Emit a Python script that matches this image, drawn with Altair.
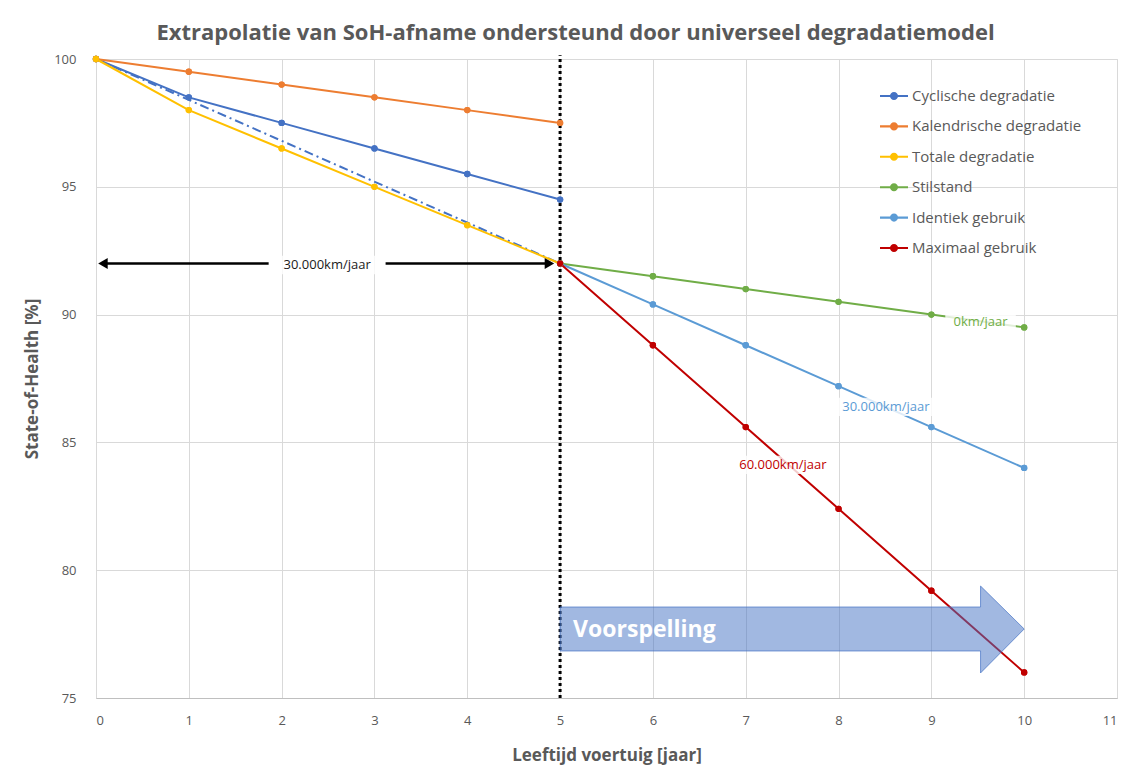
import altair as alt
import pandas as pd

# ---------------- data ----------------
series_names = ["Cyclische degradatie", "Kalendrische degradatie", "Totale degradatie",
                "Stilstand", "Identiek gebruik", "Maximaal gebruik"]
series_colors = ["#4472C4", "#ED7D31", "#FFC000", "#70AD47", "#5B9BD5", "#C00000"]

years_hist = [0, 1, 2, 3, 4, 5]
years_pred = [5, 6, 7, 8, 9, 10]
cyclisch = [100, 98.5, 97.5, 96.5, 95.5, 94.5]
kalendrisch = [100, 99.5, 99.0, 98.5, 98.0, 97.5]
totale = [100, 98.0, 96.5, 95.0, 93.5, 92.0]
stilstand = [92.0, 91.5, 91.0, 90.5, 90.0, 89.5]
identiek = [92.0, 90.4, 88.8, 87.2, 85.6, 84.0]
maximaal = [92.0, 88.8, 85.6, 82.4, 79.2, 76.0]

trend_x = [0, 5]
trend_y = [100, 92]

x_ticks = list(range(0, 12))
y_ticks = [75, 80, 85, 90, 95, 100]

# annotation texts
label_texts = ["30.000km/jaar", "0km/jaar", "30.000km/jaar", "60.000km/jaar"]
label_x = [2.49, 9.53, 8.51, 7.40]
label_y = [91.94, 89.71, 86.39, 84.12]
label_colors = ["#1a1a1a", "#70AD47", "#5B9BD5", "#C00000"]
label_halfw = [0.62, 0.38, 0.55, 0.55]
label_halfh = [0.36, 0.36, 0.36, 0.36]

arrow_seg_x = [0.08, 3.12]
arrow_seg_x2 = [1.86, 4.88]
arrow_y = 92.0
arrow_heads_x = [0.075, 4.885]
arrow_heads_shape = ["triangle-left", "triangle-right"]

forecast_x = [5, 9.53, 9.53, 10, 9.53, 9.53, 5, 5]
forecast_y = [78.56, 78.56, 79.38, 77.70, 75.98, 76.84, 76.84, 78.56]
forecast_text = "Voorspelling"

# ---------------- tables ----------------
rows = []
for name, xs, ys in [
    (series_names[0], years_hist, cyclisch),
    (series_names[1], years_hist, kalendrisch),
    (series_names[2], years_hist, totale),
    (series_names[3], years_pred, stilstand),
    (series_names[4], years_pred, identiek),
    (series_names[5], years_pred, maximaal),
]:
    for xv, yv in zip(xs, ys):
        rows.append({"x": xv, "y": yv, "serie": name})
df = pd.DataFrame(rows)

FONT = "Open Sans"
GRAY = "#595959"

X_AXIS = alt.Axis(values=x_ticks, title="Leeftijd voertuig  [jaar]", format="d",
                  grid=True, gridColor="#d9d9d9", ticks=False, domain=True,
                  domainColor="#bfbfbf", labelFont=FONT, labelFontSize=13,
                  labelColor=GRAY, labelPadding=16, titleFont=FONT,
                  titleFontSize=17, titleFontWeight="bold", titleColor=GRAY,
                  titlePadding=20)
Y_AXIS = alt.Axis(values=y_ticks, title="State-of-Health  [%]", format="d",
                  grid=True, gridColor="#d9d9d9", ticks=False, domain=False,
                  labelFont=FONT, labelFontSize=13, labelColor=GRAY,
                  labelPadding=20, titleFont=FONT, titleFontSize=17,
                  titleFontWeight="bold", titleColor=GRAY, titlePadding=12)


def xe(field="x"):
    return alt.X(f"{field}:Q", scale=alt.Scale(domain=[0, 11], nice=False, zero=False),
                 axis=X_AXIS)


def ye(field="y"):
    return alt.Y(f"{field}:Q", scale=alt.Scale(domain=[75, 100], nice=False, zero=False),
                 axis=Y_AXIS)


LEGEND_PATH = ("M-1,-0.075H1V0.075H-1Z "
               "M0.29,0A0.29,0.29,0,1,1,-0.29,0A0.29,0.29,0,1,1,0.29,0Z")

LEGEND = alt.Legend(title=None, orient="none", legendX=784, legendY=23,
                    symbolType=LEGEND_PATH, symbolSize=784,
                    symbolStrokeWidth=0, symbolOpacity=1,
                    labelFont=FONT, labelFontSize=15, labelColor=GRAY, labelLimit=400,
                    rowPadding=8.4, labelOffset=4, padding=0)
color_scale = alt.Scale(domain=series_names, range=series_colors)

points = alt.Chart(df).mark_point(filled=True, size=40, opacity=1).encode(
    x=xe(), y=ye(),
    color=alt.Color("serie:N", scale=color_scale, sort=series_names, legend=LEGEND))

lines = alt.Chart(df).mark_line(strokeWidth=2).encode(
    x=xe(), y=ye(),
    color=alt.Color("serie:N", scale=color_scale, sort=series_names, legend=LEGEND),
    detail="serie:N")

trend = alt.Chart(pd.DataFrame({"x": trend_x, "y": trend_y})).mark_line(
    color="#4472C4", strokeWidth=2, strokeDash=[9, 4, 2, 4]).encode(x=xe(), y=ye())

vline = alt.Chart(pd.DataFrame({"x": [5], "y": [75], "y2": [100.15]})).mark_rule(
    color="black", strokeWidth=3, strokeDash=[3, 3]).encode(x=xe(), y=ye(), y2="y2:Q")

arrow_df = pd.DataFrame({"x": arrow_seg_x, "x2": arrow_seg_x2, "y": [arrow_y] * 2})
arrow_lines = alt.Chart(arrow_df).mark_rule(color="black", strokeWidth=2.5).encode(
    x=xe(), x2="x2:Q", y=ye())
heads_df = pd.DataFrame({"x": arrow_heads_x, "y": [arrow_y] * 2, "shape": arrow_heads_shape})
arrow_heads = alt.Chart(heads_df).mark_point(filled=True, size=120, color="black",
                                             opacity=1).encode(
    x=xe(), y=ye(), shape=alt.Shape("shape:N", scale=None, legend=None))

lab_df = pd.DataFrame({
    "x": label_x, "y": label_y, "t": label_texts, "c": label_colors,
    "xa": [a - b for a, b in zip(label_x, label_halfw)],
    "xb": [a + b for a, b in zip(label_x, label_halfw)],
    "ya": [a - b for a, b in zip(label_y, label_halfh)],
    "yb": [a + b for a, b in zip(label_y, label_halfh)],
})
lab_bg = alt.Chart(lab_df).mark_rect(color="white", opacity=0.8).encode(
    x=xe("xa"), x2="xb:Q", y=ye("ya"), y2="yb:Q")
lab_text = alt.Chart(lab_df).mark_text(font=FONT, fontSize=13).encode(
    x=xe(), y=ye(), text="t:N", color=alt.Color("c:N", scale=None, legend=None))

fc_df = pd.DataFrame({"x": forecast_x, "y": forecast_y, "o": list(range(len(forecast_x)))})
forecast = alt.Chart(fc_df).mark_line(fill="#4472C4", fillOpacity=0.5, stroke="#4472C4",
                                      strokeWidth=1, strokeOpacity=0.7).encode(
    x=xe(), y=ye(), order="o:Q")
fc_text = alt.Chart(pd.DataFrame({"x": [5.14], "y": [77.66], "t": [forecast_text]})).mark_text(
    font=FONT, fontSize=23, fontWeight="bold", color="white", align="left",
    baseline="middle").encode(x=xe(), y=ye(), text="t:N")

chart = alt.layer(
    points, vline, trend, lines, arrow_lines, arrow_heads, lab_bg, lab_text, points,
    forecast, fc_text
).properties(
    width=1021, height=639,
    padding={"left": 88, "top": 51, "right": 10, "bottom": 70},
    autosize=alt.AutoSizeParams(type="none"),
    title=alt.TitleParams(
        "Extrapolatie van SoH-afname ondersteund door universeel degradatiemodel",
        font=FONT, fontSize=22, fontWeight="bold", color=GRAY, anchor="middle",
        dx=-31, offset=8),
).configure_view(stroke=None).configure(background="white")

chart.save("out.html", embed_options={"renderer": "svg", "actions": False})
